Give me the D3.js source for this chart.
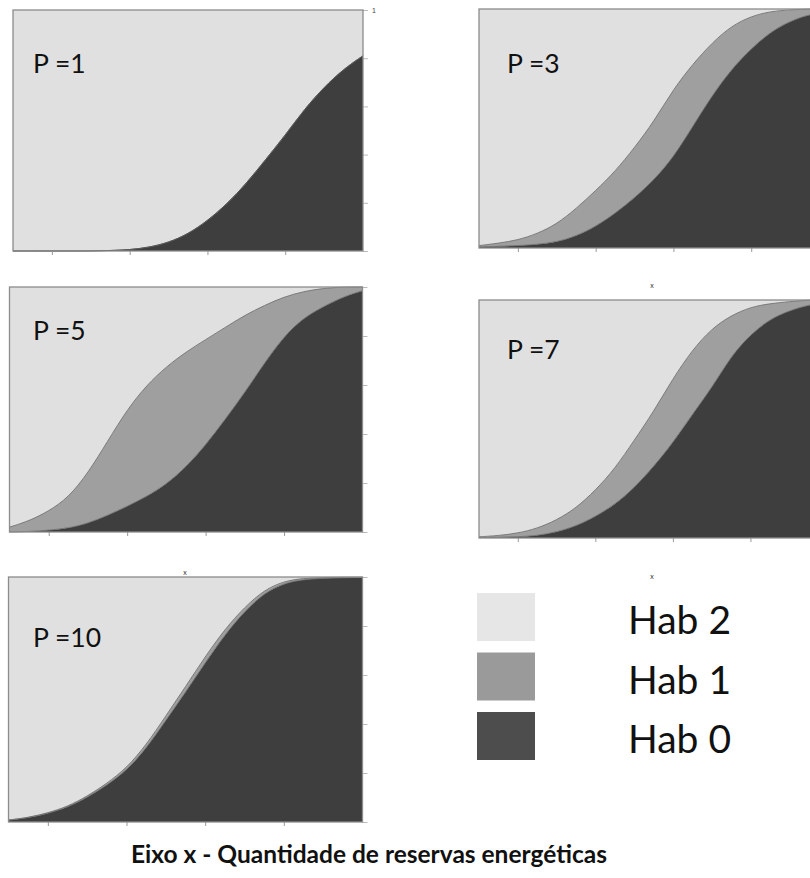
<!DOCTYPE html>
<html>
<head>
<meta charset="utf-8">
<script src="https://cdn.jsdelivr.net/npm/d3@7"></script>
<style>
  body { margin: 0; background: #fff; }
  svg { display: block; }
  .lbl { font-family: Lato, "Open Sans", sans-serif; fill: #111; }
</style>
</head>
<body>
<svg id="chart" width="810" height="878"></svg>
<script>
/* x positie (in intervallen), zelfde voor alle panelen */
var xValues = [0, 0.25, 0.5, 0.75, 1, 1.25, 1.5, 1.75, 2, 2.25, 2.5, 2.75, 3, 3.25, 3.5, 3.75, 4, 4.25, 4.5];
var xTicks = [0.5, 1.5, 2.5, 3.5];
var yTicks = [0, 0.2, 0.4, 0.6, 0.8, 1];

var panelLabels = ["P =1", "P =3", "P =5", "P =7", "P =10"];
var legendLabels = ["Hab 2", "Hab 1", "Hab 0"];
var titleText = "Eixo x - Quantidade de reservas energéticas";

/* aandeel per habitat */
var hab0P1  = [0, 0, 0, 0, 0, 0.002, 0.005, 0.015, 0.035, 0.07, 0.125, 0.195, 0.28, 0.38, 0.48, 0.59, 0.68, 0.755, 0.81];
var hab1P1  = [0, 0, 0, 0, 0, 0, 0, 0, 0, 0, 0, 0, 0, 0, 0, 0, 0, 0, 0];

var hab0P3  = [0.005, 0.007, 0.01, 0.015, 0.025, 0.05, 0.09, 0.145, 0.21, 0.285, 0.38, 0.51, 0.64, 0.75, 0.835, 0.905, 0.95, 0.978, 0.99];
var hab1P3  = [0.005, 0.013, 0.023, 0.045, 0.075, 0.115, 0.15, 0.175, 0.21, 0.245, 0.285, 0.26, 0.22, 0.18, 0.135, 0.085, 0.047, 0.022, 0.01];

var hab0P5  = [0, 0.002, 0.007, 0.016, 0.035, 0.068, 0.105, 0.145, 0.195, 0.265, 0.355, 0.46, 0.57, 0.69, 0.8, 0.875, 0.92, 0.96, 0.985];
var hab1P5  = [0.02, 0.043, 0.078, 0.124, 0.205, 0.302, 0.395, 0.455, 0.48, 0.47, 0.43, 0.375, 0.315, 0.235, 0.16, 0.107, 0.075, 0.04, 0.015];

var hab0P7  = [0.002, 0.003, 0.005, 0.01, 0.025, 0.05, 0.09, 0.14, 0.21, 0.3, 0.4, 0.52, 0.63, 0.765, 0.855, 0.92, 0.955, 0.98, 0.99];
var hab1P7  = [0.003, 0.007, 0.015, 0.03, 0.05, 0.075, 0.11, 0.15, 0.2, 0.23, 0.27, 0.27, 0.25, 0.17, 0.115, 0.065, 0.038, 0.02, 0.01];

var hab0P10 = [0.008, 0.017, 0.035, 0.06, 0.1, 0.15, 0.21, 0.3, 0.415, 0.53, 0.65, 0.765, 0.86, 0.935, 0.975, 0.99, 0.995, 0.997, 0.998];
var hab1P10 = [0, 0.001, 0.002, 0.003, 0.005, 0.007, 0.01, 0.014, 0.018, 0.022, 0.025, 0.022, 0.017, 0.012, 0.008, 0.005, 0.003, 0.002, 0.001];

var hab0Series = [hab0P1, hab0P3, hab0P5, hab0P7, hab0P10];
var hab1Series = [hab1P1, hab1P3, hab1P5, hab1P7, hab1P10];

/* plaats van de panelen op de pagina */
var layout = [
  {left: 13,  top: 10,  width: 350, height: 241, lx: 33,  ly: 73},
  {left: 479, top: 9,   width: 350, height: 239, lx: 507, ly: 73},
  {left: 9.5, top: 287, width: 353, height: 245, lx: 33,  ly: 340},
  {left: 479, top: 300, width: 349, height: 238, lx: 507, ly: 359},
  {left: 8.5, top: 577, width: 354, height: 245, lx: 33,  ly: 647}
];

var fills = {hab0: "#3e3e3e", hab1: "#9f9f9f", hab2: "#e0e0e0"};
var legendFills = ["#e6e6e6", "#9a9a9a", "#4d4d4d"];

var svg = d3.select("#chart");

var stack = d3.stack().keys(["hab0", "hab1", "hab2"]);

panelLabels.forEach(function(label, p) {
  var box = layout[p];
  var rows = xValues.map(function(x, i) {
    var h0 = hab0Series[p][i], h1 = hab1Series[p][i];
    return {x: x, hab0: h0, hab1: h1, hab2: Math.max(0, 1 - h0 - h1)};
  });

  var x = d3.scaleLinear().domain([0, 4.5]).range([0, box.width]);
  var y = d3.scaleLinear().domain([0, 1]).range([box.height, 0]);

  var g = svg.append("g")
      .attr("transform", "translate(" + box.left + "," + box.top + ")");

  g.append("rect")
      .attr("width", box.width)
      .attr("height", box.height)
      .attr("fill", fills.hab2);

  var area = d3.area()
      .curve(d3.curveBasis)
      .x(function(d) { return x(d.data.x); })
      .y0(function(d) { return y(d[0]); })
      .y1(function(d) { return y(d[1]); });

  var line = d3.line()
      .curve(d3.curveBasis)
      .x(function(d) { return x(d.data.x); })
      .y(function(d) { return y(d[1]); });

  var layers = stack(rows);

  g.selectAll(".layer")
    .data(layers)
    .enter().append("path")
      .attr("class", "layer")
      .attr("fill", function(d) { return fills[d.key]; })
      .attr("d", area);

  /* grijze randlijnen tussen de lagen */
  g.selectAll(".edge")
    .data(layers.slice(0, 2))
    .enter().append("path")
      .attr("class", "edge")
      .attr("fill", "none")
      .attr("stroke", p === 0 ? "#555" : "#707070")
      .attr("stroke-width", 0.9)
      .attr("d", line);

  /* assen */
  var xAxis = g.append("g")
      .attr("transform", "translate(0," + box.height + ")")
      .call(d3.axisBottom(x).tickValues(xTicks).tickSize(4).tickFormat(""));
  xAxis.select(".domain").remove();
  xAxis.selectAll("line").attr("stroke", "#999");

  var yAxis = g.append("g")
      .attr("transform", "translate(" + box.width + ",0)")
      .call(d3.axisRight(y).tickValues(yTicks).tickSize(5).tickPadding(4)
        .tickFormat(function(d) { return (p === 0 && d === 1) ? "1" : ""; }));
  yAxis.select(".domain").remove();
  yAxis.selectAll("line").attr("stroke", "#bbb");
  yAxis.selectAll("text").attr("font-size", 7).attr("fill", "#444");

  g.append("rect")
      .attr("width", box.width)
      .attr("height", box.height)
      .attr("fill", "none")
      .attr("stroke", "#8c8c8c")
      .attr("stroke-width", 1.3);

  svg.append("text")
      .attr("class", "lbl")
      .attr("x", box.lx)
      .attr("y", box.ly)
      .attr("font-size", 26.5)
      .text(label);
});

/* kleine "x" titels die in het origineel overblijven */
[[652, 288], [652, 579], [185, 575]].forEach(function(pos) {
  svg.append("text")
      .attr("x", pos[0])
      .attr("y", pos[1])
      .attr("text-anchor", "middle")
      .attr("font-family", "Lato, sans-serif")
      .attr("font-size", 7)
      .attr("fill", "#333")
      .text("x");
});

/* legenda */
var legend = svg.append("g").attr("transform", "translate(477,593)");
legendLabels.forEach(function(name, i) {
  legend.append("rect")
      .attr("x", 0)
      .attr("y", i * 59.5)
      .attr("width", 58)
      .attr("height", 48)
      .attr("fill", legendFills[i]);
  legend.append("text")
      .attr("class", "lbl")
      .attr("x", 151)
      .attr("y", i * 59.5 + 41)
      .attr("font-size", 39)
      .text(name);
});

svg.append("text")
    .attr("class", "lbl")
    .attr("x", 369)
    .attr("y", 863)
    .attr("text-anchor", "middle")
    .attr("font-size", 24.5)
    .attr("font-weight", "bold")
    .text(titleText);
</script>
</body>
</html>
